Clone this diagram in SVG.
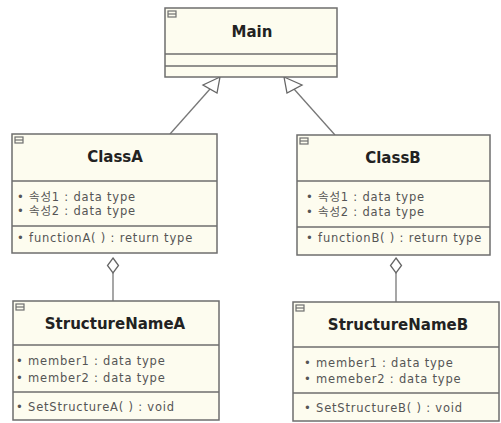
<svg xmlns="http://www.w3.org/2000/svg" width="501" height="423" viewBox="0 0 501 423">
  <defs>
    <style>
      .box { fill: #fdfcef; stroke: #6e6e6e; stroke-width: 1.5; }
      .sep { stroke: #6e6e6e; stroke-width: 1.5; fill: none; }
      .icon { fill: none; stroke: #6e6e6e; stroke-width: 1.2; }
      .title { font-family: "DejaVu Sans", "Noto Sans CJK KR", sans-serif; font-weight: bold; font-size: 15px; fill: #222; text-anchor: middle; }
      .item { font-family: "DejaVu Sans", "Noto Sans CJK KR", sans-serif; font-size: 11.5px; fill: #555; letter-spacing: 0.8px; }
      .edge { stroke: #777; stroke-width: 1.3; fill: none; }
      .head { stroke: #666; stroke-width: 1.3; fill: #fff; }
    </style>
  </defs>

  <!-- connectors -->
  <g id="connectors">
    <!-- generalization ClassA -> Main -->
    <line class="edge" x1="170" y1="134" x2="210" y2="89"/>
    <polygon class="head" points="220,77 203,85 217,93"/>
    <!-- generalization ClassB -> Main -->
    <line class="edge" x1="335" y1="135" x2="294" y2="89"/>
    <polygon class="head" points="284,77 287,93 302,85"/>
    <!-- aggregation ClassA <>- StructureNameA -->
    <line class="edge" x1="113" y1="273" x2="113" y2="301"/>
    <polygon class="head" points="113,258 118.5,265.5 113,273 107.5,265.5"/>
    <!-- aggregation ClassB <>- StructureNameB -->
    <line class="edge" x1="396" y1="273" x2="396" y2="302"/>
    <polygon class="head" points="396,258 401.5,265.5 396,273 390.5,265.5"/>
  </g>

  <!-- Main -->
  <g id="main">
    <rect class="box" x="165" y="8" width="172" height="69"/>
    <line class="sep" x1="165" y1="54" x2="337" y2="54"/>
    <line class="sep" x1="165" y1="66" x2="337" y2="66"/>
    <rect class="icon" x="168" y="11" width="8" height="6"/>
    <line class="icon" x1="168" y1="14" x2="176" y2="14"/>
    <text class="title" x="252" y="37">Main</text>
  </g>

  <!-- ClassA -->
  <g id="classA">
    <rect class="box" x="12" y="134" width="205" height="119"/>
    <line class="sep" x1="12" y1="181" x2="217" y2="181"/>
    <line class="sep" x1="12" y1="226" x2="217" y2="226"/>
    <rect class="icon" x="15" y="137" width="8" height="6"/>
    <line class="icon" x1="15" y1="140" x2="23" y2="140"/>
    <text class="title" x="115" y="162">ClassA</text>
    <text class="item" x="17" y="201">• 속성1 : data type</text>
    <text class="item" x="17" y="215">• 속성2 : data type</text>
    <text class="item" x="17" y="242">• functionA( ) : return type</text>
  </g>

  <!-- ClassB -->
  <g id="classB">
    <rect class="box" x="297" y="135" width="193" height="120"/>
    <line class="sep" x1="297" y1="181" x2="490" y2="181"/>
    <line class="sep" x1="297" y1="227" x2="490" y2="227"/>
    <rect class="icon" x="300" y="138" width="8" height="6"/>
    <line class="icon" x1="300" y1="141" x2="308" y2="141"/>
    <text class="title" x="393" y="163">ClassB</text>
    <text class="item" x="306" y="201">• 속성1 : data type</text>
    <text class="item" x="306" y="216">• 속성2 : data type</text>
    <text class="item" x="306" y="242">• functionB( ) : return type</text>
  </g>

  <!-- StructureNameA -->
  <g id="structureA">
    <rect class="box" x="13" y="301" width="206" height="119"/>
    <line class="sep" x1="13" y1="345" x2="219" y2="345"/>
    <line class="sep" x1="13" y1="392" x2="219" y2="392"/>
    <rect class="icon" x="16" y="304" width="8" height="6"/>
    <line class="icon" x1="16" y1="307" x2="24" y2="307"/>
    <text class="title" x="115" y="329">StructureNameA</text>
    <text class="item" x="16" y="365">• member1 : data type</text>
    <text class="item" x="16" y="382">• member2 : data type</text>
    <text class="item" x="16" y="411">• SetStructureA( ) : void</text>
  </g>

  <!-- StructureNameB -->
  <g id="structureB">
    <rect class="box" x="293" y="302" width="206" height="119"/>
    <line class="sep" x1="293" y1="347" x2="499" y2="347"/>
    <line class="sep" x1="293" y1="393" x2="499" y2="393"/>
    <rect class="icon" x="296" y="305" width="8" height="6"/>
    <line class="icon" x1="296" y1="308" x2="304" y2="308"/>
    <text class="title" x="398" y="330">StructureNameB</text>
    <text class="item" x="304" y="367">• member1 : data type</text>
    <text class="item" x="304" y="383">• memeber2 : data type</text>
    <text class="item" x="304" y="412">• SetStructureB( ) : void</text>
  </g>
</svg>
